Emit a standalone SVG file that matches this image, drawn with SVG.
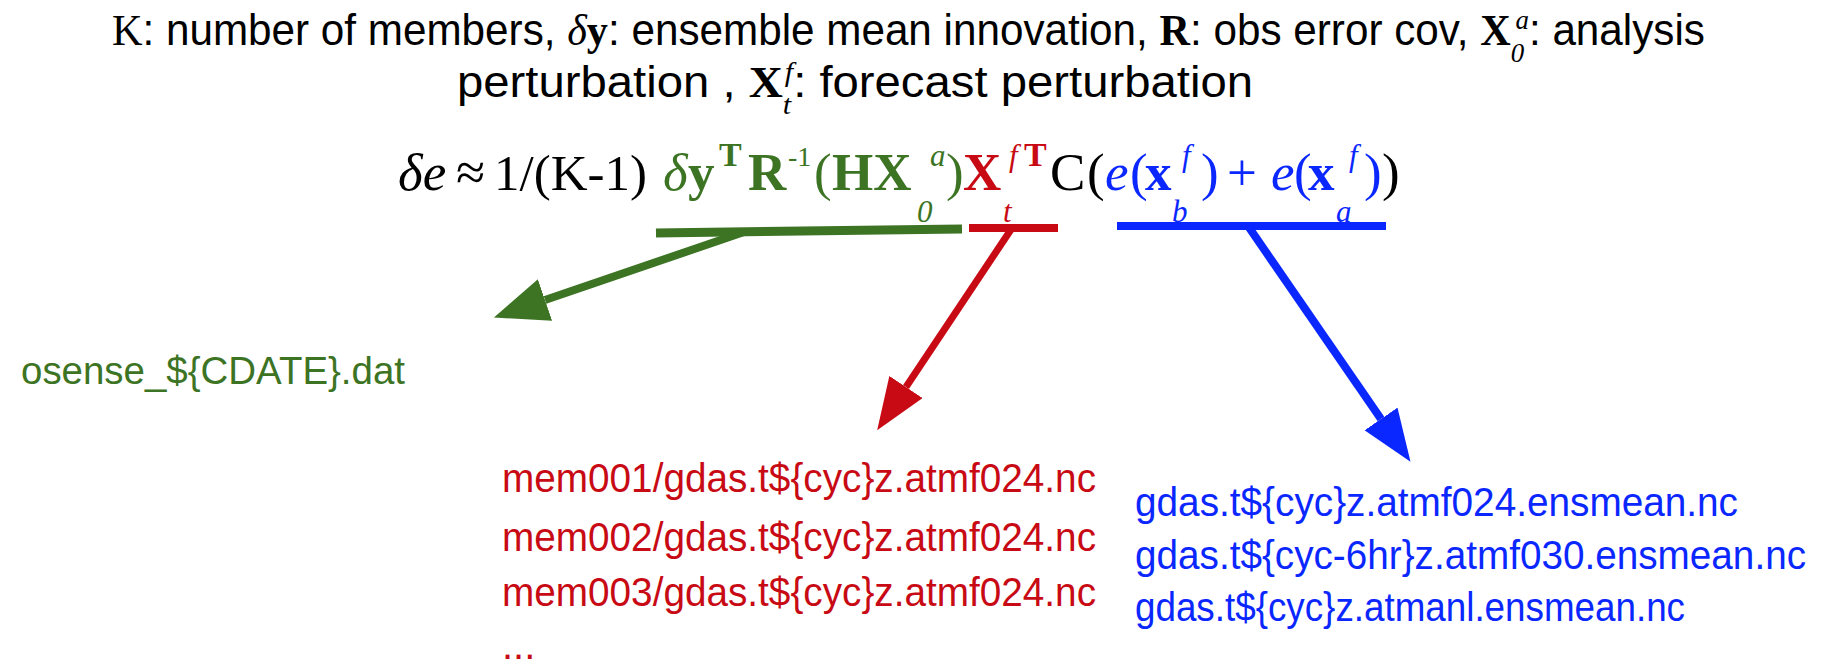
<svg xmlns="http://www.w3.org/2000/svg" width="1822" height="666" viewBox="0 0 1822 666">
<style>
.sans{font-family:"Liberation Sans",Arial,sans-serif}
.ser{font-family:"Liberation Serif","Times New Roman",serif}
.it{font-style:italic}
.bd{font-weight:bold}
.blk{fill:#000}
.grn{fill:#3C7424}
.red{fill:#C80A14}
.blu{fill:#0B27FF}
.m{font-size:53px}
.s{font-size:31px}
</style>
<defs>
<marker id="ahG" markerUnits="userSpaceOnUse" markerWidth="60" markerHeight="50" refX="0" refY="22" orient="auto"><path d="M0,0 L54,22 L0,44 Z" fill="#3C7424"/></marker>
<marker id="ahR" markerUnits="userSpaceOnUse" markerWidth="60" markerHeight="50" refX="0" refY="20" orient="auto"><path d="M0,0 L52,20 L0,40 Z" fill="#C80A14"/></marker>
<marker id="ahB" markerUnits="userSpaceOnUse" markerWidth="60" markerHeight="50" refX="0" refY="20" orient="auto"><path d="M0,0 L52,20 L0,40 Z" fill="#0B27FF"/></marker>
</defs>

<g id="legend">
<g transform="translate(112,45) scale(0.96,1)">
<text class="sans" font-size="44" fill="#000"><tspan class="ser">K</tspan>: number of members, <tspan class="ser it">δ</tspan><tspan class="ser bd">y</tspan>: ensemble mean innovation, <tspan class="ser bd">R</tspan>: obs error cov, <tspan class="ser bd">X</tspan><tspan class="ser it" font-size="28" dy="17">0</tspan><tspan class="ser it" font-size="28" dx="-9" dy="-33">a</tspan><tspan dy="16">: analysis</tspan></text>
</g>
<g transform="translate(457,97) scale(1.075,1)">
<text class="sans" font-size="44" fill="#000">perturbation , <tspan class="ser bd">X</tspan><tspan class="ser it" font-size="28" dy="17">t</tspan><tspan class="ser it" font-size="28" dx="-6" dy="-33">f</tspan><tspan dy="16">: forecast perturbation</tspan></text>
</g>
</g>

<g id="formula">
<text class="ser m">
<tspan class="blk it" x="398" y="190">δe</tspan>
<tspan class="blk" x="456" y="190">≈</tspan>
<tspan class="blk" x="494" y="190" font-size="51">1/(K-1)</tspan>
<tspan class="grn it" x="663" y="190">δ</tspan>
<tspan class="grn bd" x="688" y="190">y</tspan>
<tspan class="grn bd" x="719" y="166" font-size="34">T</tspan>
<tspan class="grn bd" x="748" y="190">R</tspan>
<tspan class="grn" x="788" y="166" font-size="28">-1</tspan>
<tspan class="grn" x="814" y="190">(</tspan>
<tspan class="grn bd" x="832" y="190">HX</tspan>
<tspan class="grn it s" x="917" y="222">0</tspan>
<tspan class="grn it s" x="930" y="166">a</tspan>
<tspan class="grn" x="946" y="190">)</tspan>
<tspan class="red bd" x="963" y="190">X</tspan>
<tspan class="red it s" x="1003" y="222">t</tspan>
<tspan class="red it s" x="1009" y="166">f</tspan>
<tspan class="red bd" x="1024" y="166" font-size="34">T</tspan>
<tspan class="blk" x="1050" y="190">C</tspan>
<tspan class="blk" x="1087" y="190">(</tspan>
<tspan class="blu it" x="1105" y="190">e</tspan>
<tspan class="blu" x="1130" y="190">(</tspan>
<tspan class="blu bd" x="1145" y="190">x</tspan>
<tspan class="blu it s" x="1172" y="222">b</tspan>
<tspan class="blu it s" x="1182" y="166">f</tspan>
<tspan class="blu" x="1201" y="190">)</tspan>
<tspan class="blu" x="1227" y="190">+</tspan>
<tspan class="blu it" x="1271" y="190">e</tspan>
<tspan class="blu" x="1294" y="190">(</tspan>
<tspan class="blu bd" x="1308" y="190">x</tspan>
<tspan class="blu it s" x="1336" y="222">a</tspan>
<tspan class="blu it s" x="1349" y="166">f</tspan>
<tspan class="blu" x="1364" y="190">)</tspan>
<tspan class="blk" x="1382" y="190">)</tspan>
</text>
</g>

<g id="connectors" fill="none">
<line x1="656" y1="233" x2="962" y2="229" stroke="#3C7424" stroke-width="9"/>
<line x1="969" y1="228" x2="1058" y2="228" stroke="#C80A14" stroke-width="8"/>
<line x1="1117" y1="226" x2="1386" y2="226" stroke="#0B27FF" stroke-width="8"/>
<line x1="744" y1="232" x2="545" y2="300" stroke="#3C7424" stroke-width="8" marker-end="url(#ahG)"/>
<line x1="1012" y1="228" x2="906" y2="387" stroke="#C80A14" stroke-width="7" marker-end="url(#ahR)"/>
<line x1="1248" y1="226" x2="1381" y2="419" stroke="#0B27FF" stroke-width="8" marker-end="url(#ahB)"/>
</g>

<g id="osense">
<text class="sans grn" x="21" y="384" font-size="38" textLength="384" lengthAdjust="spacingAndGlyphs">osense_${CDATE}.dat</text>
</g>

<g id="members">
<text class="sans red" font-size="40">
<tspan x="502" y="492" textLength="594" lengthAdjust="spacingAndGlyphs">mem001/gdas.t${cyc}z.atmf024.nc</tspan>
<tspan x="502" y="551" textLength="594" lengthAdjust="spacingAndGlyphs">mem002/gdas.t${cyc}z.atmf024.nc</tspan>
<tspan x="502" y="606" textLength="594" lengthAdjust="spacingAndGlyphs">mem003/gdas.t${cyc}z.atmf024.nc</tspan>
<tspan x="502" y="659">...</tspan>
</text>
</g>

<g id="ensmean">
<text class="sans blu" font-size="40">
<tspan x="1135" y="516" textLength="603" lengthAdjust="spacingAndGlyphs">gdas.t${cyc}z.atmf024.ensmean.nc</tspan>
<tspan x="1135" y="569" textLength="671" lengthAdjust="spacingAndGlyphs">gdas.t${cyc-6hr}z.atmf030.ensmean.nc</tspan>
<tspan x="1135" y="621" textLength="550" lengthAdjust="spacingAndGlyphs">gdas.t${cyc}z.atmanl.ensmean.nc</tspan>
</text>
</g>
</svg>
